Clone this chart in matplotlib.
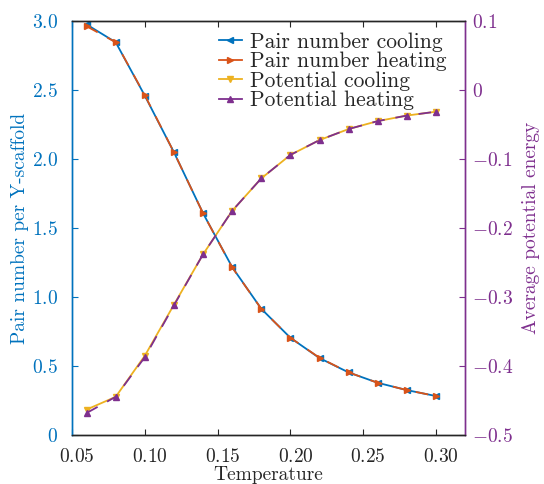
import numpy as np
import matplotlib
matplotlib.use('Agg')
import matplotlib.pyplot as plt
import matplotlib.transforms as mtransforms
from matplotlib.lines import Line2D
from matplotlib.ticker import FixedLocator, FuncFormatter

plt.rcParams['font.family'] = 'serif'
plt.rcParams['font.serif'] = ['cmr10']
plt.rcParams['mathtext.fontset'] = 'cm'
plt.rcParams['axes.unicode_minus'] = True

temp = [0.06, 0.08, 0.10, 0.12, 0.14, 0.16, 0.18, 0.20, 0.22, 0.24, 0.26, 0.28, 0.30]
pair_cool = [2.975, 2.846, 2.459, 2.049, 1.607, 1.217, 0.915, 0.705, 0.558, 0.454, 0.379, 0.326, 0.283]
pair_heat = [2.962, 2.846, 2.462, 2.049, 1.607, 1.215, 0.915, 0.705, 0.560, 0.454, 0.379, 0.326, 0.283]
pot_cool = [-0.463, -0.4445, -0.385, -0.311, -0.238, -0.175, -0.128, -0.094, -0.0725, -0.0565, -0.045, -0.037, -0.0314]
pot_heat = [-0.468, -0.4445, -0.387, -0.312, -0.238, -0.175, -0.128, -0.094, -0.0725, -0.0565, -0.045, -0.037, -0.0314]

xticks = [0.05, 0.10, 0.15, 0.20, 0.25, 0.30]
yticks_left = [0, 0.5, 1.0, 1.5, 2.0, 2.5, 3.0]
yticks_right = [-0.5, -0.4, -0.3, -0.2, -0.1, 0, 0.1]
labels = ['Pair number cooling', 'Pair number heating', 'Potential cooling', 'Potential heating']

blue = '#0072BD'
orange = '#D95319'
yellow = '#EDB120'
purple = '#7E2F8E'
dark = '#262626'
fs = 14

fig = plt.figure(figsize=(5.44, 4.84), dpi=100)
ax = fig.add_axes([0.1324, 0.101, 0.7226, 0.8556])
ax2 = ax.twinx()

ax.plot(temp, pair_cool, '-', color=blue, lw=1.3, marker='<', ms=5)
ax.plot(temp, pair_heat, '-', color=orange, lw=1.3, marker='>', ms=5, dashes=(7, 6))
ax2.plot(temp, pot_cool, '-', color=yellow, lw=1.3, marker='v', ms=5)
ax2.plot(temp, pot_heat, '-', color=purple, lw=1.3, marker='^', ms=5, dashes=(7, 6))

ax.set_xlim(0.05, 0.32)
ax.set_ylim(0, 3.0)
ax2.set_ylim(-0.5, 0.1)

num = lambda v, p: '$0$' if abs(v) < 1e-9 else '$%.1f$' % v
ax.xaxis.set_major_locator(FixedLocator(xticks))
ax.xaxis.set_major_formatter(FuncFormatter(lambda v, p: '$%.2f$' % v))
ax.yaxis.set_major_locator(FixedLocator(yticks_left))
ax.yaxis.set_major_formatter(FuncFormatter(num))
ax2.yaxis.set_major_locator(FixedLocator(yticks_right))
ax2.yaxis.set_major_formatter(FuncFormatter(num))

ax.tick_params(axis='x', direction='in', top=True, length=4, labelsize=fs, colors=dark, pad=9)
ax.tick_params(axis='y', direction='in', length=4, labelsize=fs, colors=blue, pad=10)
ax2.tick_params(axis='y', direction='in', length=4, labelsize=fs, colors=purple, pad=5)

shift = mtransforms.ScaledTranslation(5 / 100, 0, fig.dpi_scale_trans)
for lab in ax.get_xticklabels():
    lab.set_transform(lab.get_transform() + shift)

for a in (ax, ax2):
    a.spines['top'].set_color(dark)
    a.spines['bottom'].set_color(dark)
    a.spines['left'].set_color(blue)
    a.spines['right'].set_color(purple)
    for s in a.spines.values():
        s.set_linewidth(1.0)

ax.set_xlabel('Temperature', fontsize=fs, color=dark, labelpad=0)
ax.set_ylabel('Pair number per Y-scaffold', fontsize=fs, color=blue, labelpad=2)
ax2.set_ylabel('Average potential energy', fontsize=fs, color=purple, labelpad=6)

handles = [Line2D([], [], color=c, lw=1.3, marker=m, ms=5)
           for c, m in zip([blue, orange, yellow, purple], ['<', '>', 'v', '^'])]
leg = ax.legend(handles, labels, loc='upper right', bbox_to_anchor=(0.996, 1.015),
                frameon=False, fontsize=15.5, handlelength=1.1, handletextpad=0.35,
                labelspacing=0.0, borderpad=0.3)
for t in leg.get_texts():
    t.set_color(dark)

fig.savefig('out.png', dpi=100)
